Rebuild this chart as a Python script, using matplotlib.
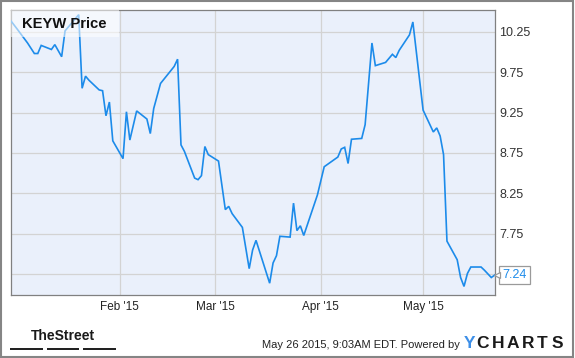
import matplotlib
matplotlib.use("Agg")
import matplotlib.pyplot as plt
import matplotlib.dates as mdates
import matplotlib.transforms as mtransforms
from matplotlib.patches import Rectangle
import pandas as pd

# ---- data ----
dates = ["2014-12-31", "2015-01-02", "2015-01-05", "2015-01-07", "2015-01-08", "2015-01-09",
         "2015-01-12", "2015-01-13", "2015-01-15", "2015-01-16", "2015-01-20", "2015-01-21",
         "2015-01-22", "2015-01-23", "2015-01-26", "2015-01-27", "2015-01-28", "2015-01-29",
         "2015-01-30", "2015-02-02", "2015-02-03", "2015-02-04", "2015-02-06", "2015-02-09",
         "2015-02-10", "2015-02-11", "2015-02-13", "2015-02-17", "2015-02-18", "2015-02-19",
         "2015-02-20", "2015-02-23", "2015-02-24", "2015-02-25", "2015-02-26", "2015-02-27",
         "2015-03-02", "2015-03-04", "2015-03-05", "2015-03-06", "2015-03-09", "2015-03-11",
         "2015-03-12", "2015-03-13", "2015-03-17", "2015-03-18", "2015-03-19", "2015-03-20",
         "2015-03-23", "2015-03-24", "2015-03-25", "2015-03-26", "2015-03-27", "2015-03-31",
         "2015-04-02", "2015-04-06", "2015-04-07", "2015-04-08", "2015-04-09", "2015-04-10",
         "2015-04-13", "2015-04-14", "2015-04-16", "2015-04-17", "2015-04-20", "2015-04-22",
         "2015-04-23", "2015-04-24", "2015-04-27", "2015-04-28", "2015-05-01", "2015-05-04",
         "2015-05-05", "2015-05-06", "2015-05-07", "2015-05-08", "2015-05-11", "2015-05-12",
         "2015-05-13", "2015-05-14", "2015-05-15", "2015-05-18", "2015-05-19", "2015-05-21",
         "2015-05-22"]
prices = [10.39, 10.28, 10.11, 9.98, 9.98, 10.08,
          10.03, 10.09, 9.94, 10.26, 10.46, 9.55,
          9.70, 9.65, 9.53, 9.52, 9.21, 9.38,
          8.90, 8.68, 9.26, 8.91, 9.27, 9.17,
          8.99, 9.30, 9.61, 9.82, 9.91, 8.85,
          8.77, 8.44, 8.42, 8.47, 8.83, 8.73,
          8.65, 8.05, 8.09, 8.00, 7.83, 7.32,
          7.55, 7.67, 7.14, 7.39, 7.48, 7.72,
          7.71, 8.13, 7.79, 7.85, 7.73, 8.23,
          8.58, 8.70, 8.80, 8.82, 8.62, 8.92,
          8.93, 9.10, 10.11, 9.83, 9.87, 9.97,
          9.93, 10.02, 10.21, 10.37, 9.28, 9.01,
          9.06, 8.96, 8.73, 7.66, 7.43, 7.21,
          7.10, 7.26, 7.34, 7.34, 7.30, 7.21,
          7.24]
y_ticks = [7.25, 7.75, 8.25, 8.75, 9.25, 9.75, 10.25]
# the 7.25 label is hidden behind the last-value box in the original
y_tick_labels = ["", "7.75", "8.25", "8.75", "9.25", "9.75", "10.25"]
x_ticks = ["2015-02-01", "2015-03-01", "2015-04-01", "2015-05-01"]
x_tick_labels = ["Feb '15", "Mar '15", "Apr '15", "May '15"]
title = "KEYW Price"
last_label = "7.24"
footer = "May 26 2015, 9:03AM EDT. Powered by"

W, H = 575, 358
plt.rcParams['font.family'] = ['Liberation Sans', 'DejaVu Sans']
fig = plt.figure(figsize=(W / 100, H / 100), dpi=100)
fig.patch.set_facecolor("white")


def fx(px):
    return px / W


def fy(py):
    return 1 - py / H


# axes
left, right, top, bottom = 10.5, 494.7, 10.0, 295.0
ax = fig.add_axes([fx(left), fy(bottom), (right - left) / W, (bottom - top) / H])
ax.set_facecolor("#EAF0FB")

d = pd.to_datetime(dates)
line_color = "#1C8BEA"
ax.plot(d, prices, color=line_color, lw=1.2, zorder=3, solid_joinstyle="miter")

ax.set_xlim(pd.Timestamp("2014-12-31"), pd.Timestamp("2015-05-22"))
ax.set_ylim(6.994, 10.518)

ax.set_yticks(y_ticks)
ax.set_yticklabels(y_tick_labels)
ax.set_xticks(pd.to_datetime(x_ticks))
ax.set_xticklabels(x_tick_labels)
ax.yaxis.tick_right()
ax.tick_params(axis="y", length=0, pad=3.3, labelsize=9, labelcolor="#333333")
ax.tick_params(axis="x", length=0, pad=4, labelsize=8.5, labelcolor="#222222")
ax.grid(True, color="#D3D3D3", lw=0.9, zorder=1)
ax.set_axisbelow(True)
for s in ax.spines.values():
    s.set_color("#808080")
    s.set_linewidth(0.9)

# title box
ax.add_patch(Rectangle((0, 1 - 26.7 / 285), (119 - left) / (right - left), 26.7 / 285,
                       transform=ax.transAxes, facecolor="white", alpha=0.55,
                       edgecolor="none", zorder=4))
ax.text((22 - left) / (right - left), 1 - 13.5 / 285, title, transform=ax.transAxes,
        fontsize=10.6, fontweight="bold", color="#111111", va="center", ha="left", zorder=5)

# last value label
blend = mtransforms.blended_transform_factory(ax.transAxes, ax.transData)
ax.annotate(last_label, xy=(1, prices[-1]), xycoords=blend,
            xytext=(7.5, 0), textcoords="offset pixels", ha="left", va="center",
            fontsize=9, color=line_color, annotation_clip=False, zorder=6,
            bbox=dict(boxstyle="square,pad=0.25", fc="white", ec="#9A9A9A", lw=0.9))
tri_tr = blend + mtransforms.ScaledTranslation(2.5 / 100, 0, fig.dpi_scale_trans)
ax.plot([1], [prices[-1]], marker="<", ms=5, mfc="white", mec="#9A9A9A", mew=0.9,
        transform=tri_tr, clip_on=False, zorder=7)

# outer border
fig.add_artist(Rectangle((fx(1), fy(356.5)), (573.3 - 1) / W, (356.5 - 1) / H,
                         transform=fig.transFigure, fill=False, edgecolor="#858585", lw=1.5))

# TheStreet logo
fig.text(fx(63), fy(336), "TheStreet", family=["Liberation Sans Narrow", "Liberation Sans"],
         fontsize=10, fontweight="bold", color="#1a1a1a", ha="center", va="center")
for x0, x1 in [(10, 42.7), (46.7, 79.3), (83.3, 115.7)]:
    fig.add_artist(Rectangle((fx(x0), fy(350.3)), (x1 - x0) / W, 2.6 / H,
                             transform=fig.transFigure, facecolor="#222222", edgecolor="none"))

# footer text
fig.text(fx(459.5), fy(344.5), footer, fontsize=8, color="#222222", ha="right", va="center")

# YCHARTS logo
letters = ["Y", "C", "H", "A", "R", "T", "S"]
centers = [470, 482.8, 498, 512.5, 528, 542, 557.8]
for ch, cx in zip(letters, centers):
    fig.text(fx(cx), fy(343.7), ch, fontsize=12.5, fontweight="bold",
             color="#3D8FE8" if ch == "Y" else "#1a1a1a", ha="center", va="center")

fig.savefig("out.png", dpi=100, facecolor="white")
